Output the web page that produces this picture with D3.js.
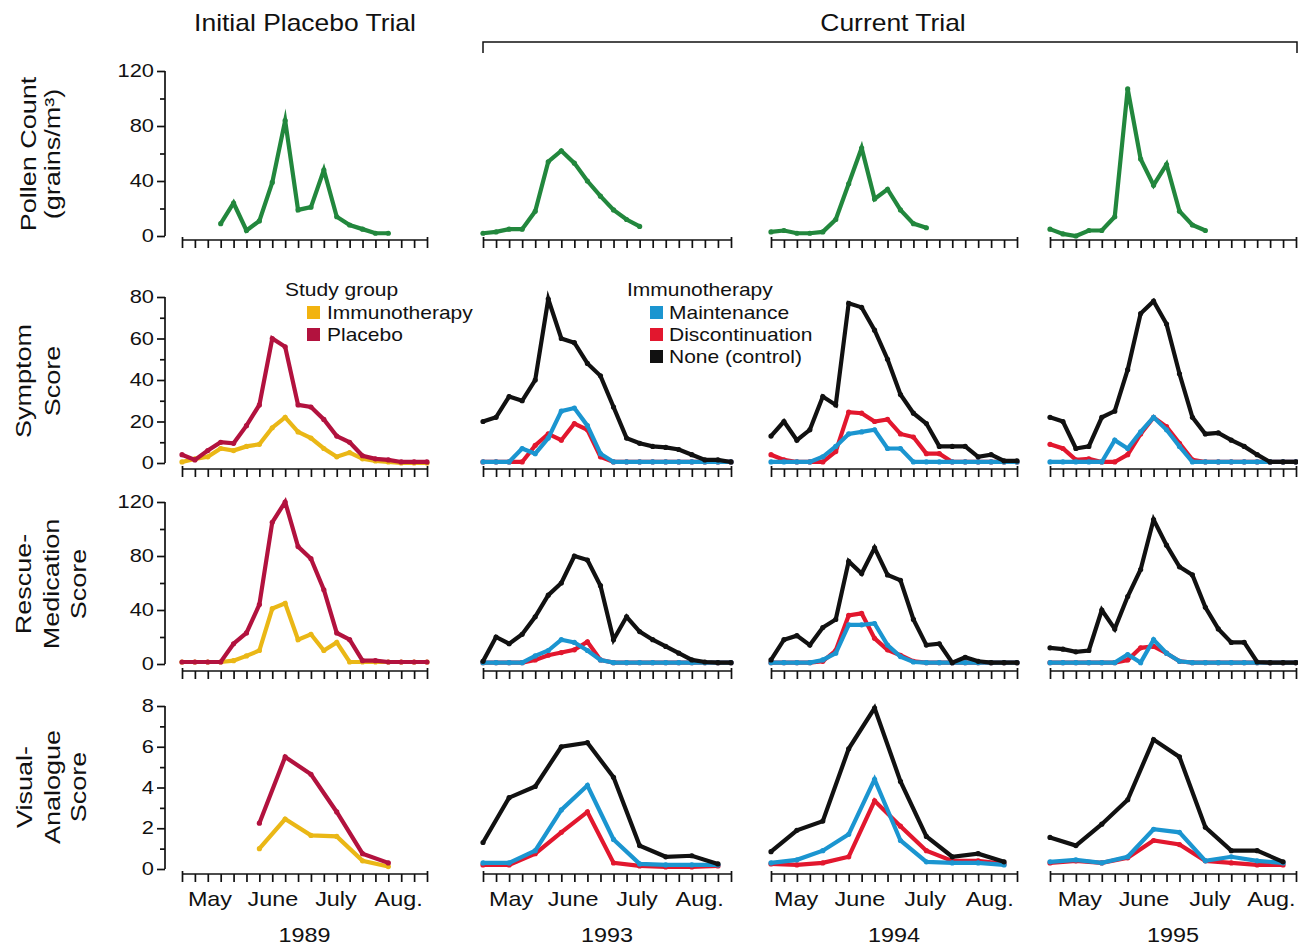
<!DOCTYPE html>
<html><head><meta charset="utf-8">
<script src="https://cdn.jsdelivr.net/npm/d3@7"></script>
<style>body{margin:0;background:#fff}svg{display:block}</style>
</head><body>
<svg id="chart" width="1298" height="949"></svg>
<script>
// ---------------- DATA ----------------
const years = ["1989", "1993", "1994", "1995"];
const monthLabels = ["May", "June", "July", "Aug."];
// month label positions, in weeks from the first tick
const monthWeek1989 = [2.17, 7.05, 11.94, 16.8];
const monthWeek1993 = [2.15, 6.9, 11.8, 16.6];
const monthWeek1994 = [1.93, 6.87, 11.9, 16.9];
const monthWeek1995 = [2.3, 7.26, 12.36, 17.1];
const weekTicks = [0,1,2,3,4,5,6,7,8,9,10,11,12,13,14,15,16,17,18,19];

const pollenTicks = [0, 40, 80, 120], pollenMinor = [20, 60, 100];
const symptomTicks = [0, 20, 40, 60, 80], symptomMinor = [10, 30, 50, 70];
const rescueTicks = [0, 40, 80, 120], rescueMinor = [20, 60, 100];
const vasTicks = [0, 2, 4, 6, 8], vasMinor = [1, 3, 5, 7];

const legendStudy = ["Immunotherapy", "Placebo"];
const legendCurrent = ["Maintenance", "Discontinuation", "None (control)"];

// weeks at which each kind of series was sampled
const pollenWeeks1989 = [3,4,5,6,7,8,9,10,11,12,13,14,15,16];
const pollenWeeksCurrent = [0,1,2,3,4,5,6,7,8,9,10,11,12];
const weeklyWeeks = weekTicks;
const vasWeeks1989 = [6, 8, 10, 12, 14, 16];
const vasWeeksCurrent = [0, 2, 4, 6, 8, 10, 12, 14, 16, 18];

// Pollen count (grains/m3)
const pollen1989 = [9, 24, 4, 11, 39, 84, 19, 21, 48, 14, 8, 5, 2, 2];
const pollen1993 = [2, 3, 5, 5, 18, 54, 62, 53, 40, 29, 19, 12, 7];
const pollen1994 = [3, 4, 2, 2, 3, 12, 38, 64, 27, 34, 19, 9, 6];
const pollen1995 = [5, 1.5, 0, 4, 4, 14, 107, 56, 37, 52, 18, 8, 4];

// Symptom score
const symImmuno1989  = [0.5, 2, 3, 7, 6, 8, 9, 17, 22, 15, 12, 7, 3, 5, 2, 1, 0.5, 0, 0, 0];
const symPlacebo1989 = [4, 1.5, 6, 10, 9.5, 18, 28, 60, 56, 28, 27, 21, 13, 10, 3.5, 2, 1.5, 0.5, 0.5, 0.5];
const symMaint1993   = [0.5, 0.5, 0.5, 7, 4.5, 12, 25, 26.5, 18, 4.5, 0.5, 0.5, 0.5, 0.5, 0.5, 0.5, 0.5, 0.5, 0.5, 0.5];
const symDisc1993    = [0.5, 0.5, 0.5, 0.5, 8.5, 14, 11, 19, 16, 3, 0.5, 0.5, 0.5, 0.5, 0.5, 0.5, 0.5, 0.5, 0.5, 0.5];
const symControl1993 = [20, 22, 32, 30, 40, 79, 60, 58, 48, 42, 27, 12, 9.5, 8, 7.5, 6.5, 4, 1.5, 1.5, 0.5];
const symMaint1994   = [0.5, 0.5, 0.5, 0.5, 3, 8, 14, 15, 16, 7, 7, 0.5, 0.5, 0.5, 0.5, 0.5, 0.5, 0.5, 0.5, 0.5];
const symDisc1994    = [4, 1.5, 0.5, 0.5, 0.5, 5.5, 24.5, 24, 20, 21, 14, 12.5, 4.5, 4.5, 0.5, 0.5, 0.5, 0.5, 0.5, 0.5];
const symControl1994 = [13, 20, 11, 16, 32, 28, 77, 75, 64, 50, 33, 24, 19, 8, 8, 8, 3, 4, 1, 1];
const symMaint1995   = [0.5, 0.5, 0.5, 0.5, 0.5, 11, 7, 15, 22, 16, 8, 0.5, 0.5, 0.5, 0.5, 0.5, 0.5, 0.5, 0.5, 0.5];
const symDisc1995    = [9, 7, 1.5, 2, 0.5, 0.5, 4, 14, 22, 17.5, 9.5, 1.5, 0.5, 0.5, 0.5, 0.5, 0.5, 0.5, 0.5, 0.5];
const symControl1995 = [22, 20, 7, 8, 22, 25, 45, 72, 78, 67, 43, 22, 14, 14.5, 11, 8, 4, 0.5, 0.5, 0.5];

// Rescue-medication score
const resImmuno1989  = [1.5, 1.5, 1.5, 1.5, 2.5, 6, 10, 41, 45, 18, 22, 10, 16, 1.5, 1.5, 1.5, 1.5, 1.5, 1.5, 1.5];
const resPlacebo1989 = [1.5, 1.5, 1.5, 1.5, 15, 23, 44, 105, 120, 87, 78, 55, 23, 18, 2.5, 2.5, 1.5, 1.5, 1.5, 1.5];
const resMaint1993   = [1, 1, 1, 1, 6, 10, 18, 16, 10, 3, 1, 1, 1, 1, 1, 1, 1, 1, 1, 1];
const resDisc1993    = [1, 1, 1, 1, 3, 6.5, 8.5, 10.5, 16.5, 3, 1, 1, 1, 1, 1, 1, 1, 1, 1, 1];
const resControl1993 = [2, 20, 15, 22, 35, 51, 60, 80, 77, 58, 18, 35, 24, 18, 13, 8, 3, 1.5, 1, 1];
const resMaint1994   = [1, 1, 1, 1, 3, 8, 29, 29, 30, 14, 5.5, 1.5, 1, 1, 1, 1, 1, 1, 1, 1];
const resDisc1994    = [1, 1, 1, 1, 2, 10, 36, 37.5, 19, 10.5, 6.5, 2, 1, 1, 1, 1, 1, 1, 1, 1];
const resControl1994 = [3, 18, 21, 14, 27, 33, 76, 67, 86, 66, 62, 33, 14, 15, 1, 5, 2, 1, 1, 1];
const resMaint1995   = [1, 1, 1, 1, 1, 1, 7, 1, 18, 8, 2, 1, 1, 1, 1, 1, 1, 1, 1, 1];
const resDisc1995    = [1, 1, 1, 1, 1, 1, 3, 12, 13, 8, 2, 1, 1, 1, 1, 1, 1, 1, 1, 1];
const resControl1995 = [12, 11, 9, 10, 40, 26, 50, 70, 107, 88, 72, 66, 42, 26, 16, 16, 1.5, 1, 1, 1];

// Visual-analogue score
const vasImmuno1989  = [1.0, 2.45, 1.65, 1.6, 0.4, 0.12];
const vasPlacebo1989 = [2.25, 5.5, 4.65, 2.8, 0.75, 0.3];
const vasMaint1993   = [0.3, 0.3, 0.9, 2.9, 4.1, 1.45, 0.25, 0.2, 0.2, 0.2];
const vasDisc1993    = [0.2, 0.2, 0.75, 1.8, 2.8, 0.3, 0.15, 0.1, 0.1, 0.15];
const vasControl1993 = [1.3, 3.5, 4.05, 6.0, 6.2, 4.5, 1.15, 0.6, 0.65, 0.25];
const vasMaint1994   = [0.3, 0.45, 0.9, 1.7, 4.4, 1.4, 0.35, 0.3, 0.3, 0.2];
const vasDisc1994    = [0.25, 0.2, 0.3, 0.6, 3.35, 2.1, 0.9, 0.4, 0.4, 0.25];
const vasControl1994 = [0.85, 1.9, 2.35, 5.9, 7.9, 4.3, 1.6, 0.6, 0.75, 0.35];
const vasMaint1995   = [0.35, 0.45, 0.3, 0.6, 1.95, 1.8, 0.4, 0.6, 0.4, 0.3];
const vasDisc1995    = [0.3, 0.4, 0.3, 0.55, 1.4, 1.2, 0.4, 0.3, 0.2, 0.2];
const vasControl1995 = [1.55, 1.15, 2.2, 3.4, 6.35, 5.5, 2.05, 0.9, 0.9, 0.35];

// ---------------- STYLE / LAYOUT ----------------
const GREEN = "#22873d", YEL = "#eab716", YELSQ = "#f2b30f", PLA = "#b2123e",
      MAI = "#1b95d0", DIS = "#e2172e", CON = "#111111";
const FONT = "'Liberation Sans', Arial, Helvetica, sans-serif";

const cols = [
  { year: years[0], x0: 182, x1: 427, months: monthWeek1989 },
  { year: years[1], x0: 483, x1: 731, months: monthWeek1993 },
  { year: years[2], x0: 771, x1: 1017, months: monthWeek1994 },
  { year: years[3], x0: 1050, x1: 1296, months: monthWeek1995 }
];

const rows = [
  { y0: 236, yTop: 71, max: 120, axisY: 240, major: pollenTicks, minor: pollenMinor,
    title: ["Pollen Count", "(grains/m³)"], titleY: 154, titleX: [36, 60] },
  { y0: 463, yTop: 297, max: 80, axisY: 469, major: symptomTicks, minor: symptomMinor,
    title: ["Symptom", "Score"], titleY: 381, titleX: [31, 60] },
  { y0: 664, yTop: 502, max: 120, axisY: 671, major: rescueTicks, minor: rescueMinor,
    title: ["Rescue-", "Medication", "Score"], titleY: 584, titleX: [31, 59, 86] },
  { y0: 869, yTop: 706, max: 8, axisY: 874, major: vasTicks, minor: vasMinor,
    title: ["Visual-", "Analogue", "Score"], titleY: 787, titleX: [32, 60, 86] }
];

const S = (w, v, c) => ({ w, v, c });
// series[row][col]
const series = [
  [ [S(pollenWeeks1989, pollen1989, GREEN)],
    [S(pollenWeeksCurrent, pollen1993, GREEN)],
    [S(pollenWeeksCurrent, pollen1994, GREEN)],
    [S(pollenWeeksCurrent, pollen1995, GREEN)] ],
  [ [S(weeklyWeeks, symImmuno1989, YEL), S(weeklyWeeks, symPlacebo1989, PLA)],
    [S(weeklyWeeks, symDisc1993, DIS), S(weeklyWeeks, symMaint1993, MAI), S(weeklyWeeks, symControl1993, CON)],
    [S(weeklyWeeks, symDisc1994, DIS), S(weeklyWeeks, symMaint1994, MAI), S(weeklyWeeks, symControl1994, CON)],
    [S(weeklyWeeks, symDisc1995, DIS), S(weeklyWeeks, symMaint1995, MAI), S(weeklyWeeks, symControl1995, CON)] ],
  [ [S(weeklyWeeks, resImmuno1989, YEL), S(weeklyWeeks, resPlacebo1989, PLA)],
    [S(weeklyWeeks, resDisc1993, DIS), S(weeklyWeeks, resMaint1993, MAI), S(weeklyWeeks, resControl1993, CON)],
    [S(weeklyWeeks, resDisc1994, DIS), S(weeklyWeeks, resMaint1994, MAI), S(weeklyWeeks, resControl1994, CON)],
    [S(weeklyWeeks, resDisc1995, DIS), S(weeklyWeeks, resMaint1995, MAI), S(weeklyWeeks, resControl1995, CON)] ],
  [ [S(vasWeeks1989, vasImmuno1989, YEL), S(vasWeeks1989, vasPlacebo1989, PLA)],
    [S(vasWeeksCurrent, vasDisc1993, DIS), S(vasWeeksCurrent, vasMaint1993, MAI), S(vasWeeksCurrent, vasControl1993, CON)],
    [S(vasWeeksCurrent, vasDisc1994, DIS), S(vasWeeksCurrent, vasMaint1994, MAI), S(vasWeeksCurrent, vasControl1994, CON)],
    [S(vasWeeksCurrent, vasDisc1995, DIS), S(vasWeeksCurrent, vasMaint1995, MAI), S(vasWeeksCurrent, vasControl1995, CON)] ]
];

// ---------------- DRAW ----------------
const svg = d3.select("#chart");

function txt(g, x, y, s, size, sx, anchor, rot) {
  return g.append("text")
    .attr("transform", `translate(${x},${y})${rot ? " rotate(-90)" : ""} scale(${sx},1)`)
    .attr("text-anchor", anchor || "start")
    .attr("font-family", FONT)
    .attr("font-size", size)
    .attr("fill", "#111")
    .text(s);
}

// headers
txt(svg, 305, 31, "Initial Placebo Trial", 23, 1.15, "middle");
txt(svg, 893, 31, "Current Trial", 23, 1.15, "middle");
svg.append("path").attr("d", "M483,53V42H1297V53")
  .attr("fill", "none").attr("stroke", "#111").attr("stroke-width", 1.5);

rows.forEach((row, ri) => {
  const y = d3.scaleLinear().domain([0, row.max]).range([row.y0, row.yTop]);

  // row title (rotated)
  row.title.forEach((t, li) => txt(svg, row.titleX[li], row.titleY, t, 22.5, 1.2, "middle", true));

  // y axis on first column
  const yg = svg.append("g").attr("transform", "translate(165,0)");
  yg.call(d3.axisLeft(y).tickValues(row.major).tickSize(8).tickFormat(() => ""));
  yg.call(g => g.select(".domain").attr("d", `M0,${y(0)}V${y(row.max)}`));
  yg.selectAll("line,path").attr("stroke", "#111").attr("stroke-width", 1.7);
  const ym = svg.append("g").attr("transform", "translate(165,0)");
  ym.call(d3.axisLeft(y).tickValues(row.minor).tickSize(5).tickFormat(() => ""));
  ym.select(".domain").remove();
  ym.selectAll("line").attr("stroke", "#111").attr("stroke-width", 1.7);
  row.major.forEach(v => txt(svg, 154, y(v) + 6.2, String(v), 17.5, 1.25, "end"));

  cols.forEach((col, ci) => {
    const x = d3.scaleLinear().domain([0, weekTicks.length - 1]).range([col.x0, col.x1]);
    // x axis with weekly ticks
    const xg = svg.append("g").attr("transform", `translate(0,${row.axisY})`);
    xg.call(d3.axisBottom(x).tickValues(weekTicks).tickSize(8).tickSizeOuter(0).tickFormat(() => ""));
    xg.select(".domain").attr("d", `M${x(0)},0H${x(weekTicks.length - 1)}`);
    xg.selectAll(".tick line").attr("y1", (d, i) => (i === 0 || i === weekTicks.length - 1) ? -3 : 0);
    xg.selectAll("line,path").attr("stroke", "#111").attr("stroke-width", 1.7);

    // series
    const line = d3.line().x(d => x(d[0])).y(d => y(d[1]));
    series[ri][ci].forEach(s => {
      const pts = s.w.map((w, i) => [w, s.v[i]]);
      svg.append("path").datum(pts).attr("d", line)
        .attr("fill", "none").attr("stroke", s.c).attr("stroke-width", 4.2)
        .attr("stroke-linejoin", "miter").attr("stroke-miterlimit", 6);
      svg.append("g").selectAll("circle").data(pts).join("circle")
        .attr("cx", d => x(d[0])).attr("cy", d => y(d[1])).attr("r", 2.6).attr("fill", s.c);
    });

    // month + year labels under last row
    if (ri === rows.length - 1) {
      col.months.forEach((m, mi) => txt(svg, x(m), 906, monthLabels[mi], 20, 1.17, "middle"));
      txt(svg, (col.x0 + col.x1) / 2, 942, col.year, 19.5, 1.2, "middle");
    }
  });
});

// legends
function legend(hx, hy, header, items, colors, sqx, tx) {
  txt(svg, hx, hy, header, 17.5, 1.2, "start");
  items.forEach((it, i) => {
    const top = 306 + i * 22;
    svg.append("rect").attr("x", sqx).attr("y", top).attr("width", 13).attr("height", 13).attr("fill", colors[i]);
    txt(svg, tx, top + 12.5, it, 17.5, 1.2, "start");
  });
}
legend(285, 296, "Study group", legendStudy, [YELSQ, PLA], 307, 327);
legend(627, 296, "Immunotherapy", legendCurrent, [MAI, DIS, CON], 650, 669);
</script>
</body></html>
